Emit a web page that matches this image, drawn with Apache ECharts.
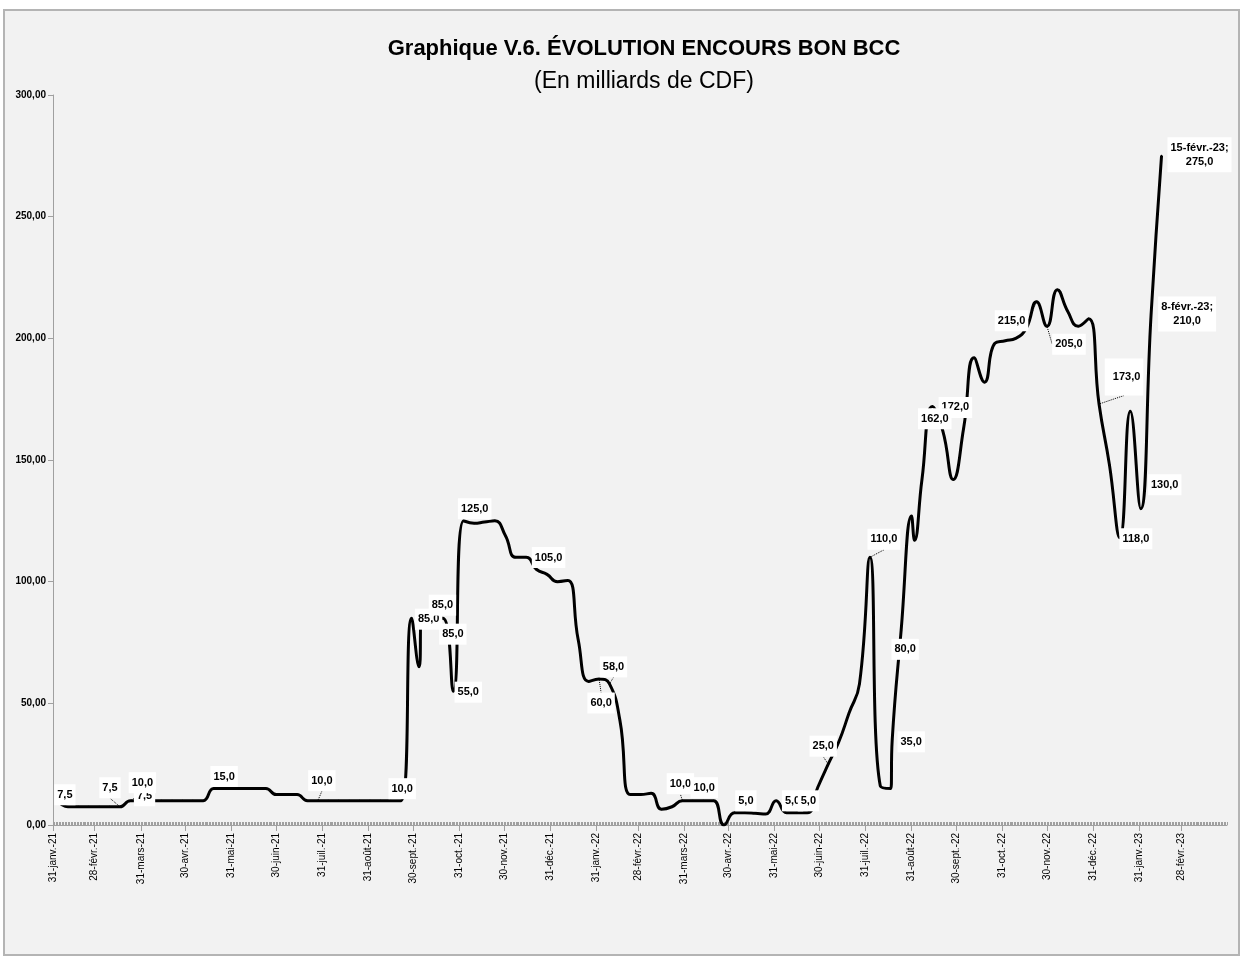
<!DOCTYPE html>
<html>
<head>
<meta charset="utf-8">
<title>Encours Bon BCC</title>
<script src="https://cdn.jsdelivr.net/npm/echarts@6/dist/echarts.min.js"></script>
<style>
  html, body { margin: 0; padding: 0; background: #fff; }
  #cadre { position: absolute; left: 3px; top: 9px; width: 1233px; height: 943px; background: #f2f2f2; border: 2px solid #b4b4b4; }
  #chart { position: absolute; left: 0; top: 0; width: 1244px; height: 958px; }
</style>
</head>
<body>
<div id="cadre"></div>
<div id="chart"></div>
<script>
// encours hebdomadaire (milliards de CDF)
const dates2021 = [
  '2021-02-03', '2021-02-10', '2021-02-17', '2021-02-24', '2021-03-03', '2021-03-10', '2021-03-17', '2021-03-24',
  '2021-03-31', '2021-04-07', '2021-04-14', '2021-04-21', '2021-04-28', '2021-05-05', '2021-05-12', '2021-05-19',
  '2021-05-26', '2021-06-02', '2021-06-09', '2021-06-16', '2021-06-23', '2021-06-30', '2021-07-07', '2021-07-14',
  '2021-07-21', '2021-07-28', '2021-08-04', '2021-08-11', '2021-08-18', '2021-08-25', '2021-09-01', '2021-09-08',
  '2021-09-15', '2021-09-22', '2021-09-29', '2021-10-04', '2021-10-06', '2021-10-13', '2021-10-20', '2021-10-27',
  '2021-11-03', '2021-11-10', '2021-11-17', '2021-11-24', '2021-12-01', '2021-12-08', '2021-12-15', '2021-12-22',
  '2021-12-29'
];
const values2021 = [
  10, 7.5, 7.5, 7.5, 7.5, 7.5, 7.5, 10,
  10, 10, 10, 10, 10, 10, 10, 15,
  15, 15, 15, 15, 15, 12.5, 12.5, 12.5,
  10, 10, 10, 10, 10, 10, 10, 10,
  10, 10, 85, 65, 85, 85, 85, 55,
  125, 124, 124.5, 125, 119, 110, 110, 105,
  103
];
const dates2022 = [
  '2022-01-05', '2022-01-12', '2022-01-19', '2022-01-26', '2022-02-02', '2022-02-09', '2022-02-16', '2022-02-23',
  '2022-03-02', '2022-03-09', '2022-03-16', '2022-03-23', '2022-03-30', '2022-04-06', '2022-04-13', '2022-04-20',
  '2022-04-27', '2022-05-04', '2022-05-11', '2022-05-18', '2022-05-25', '2022-06-01', '2022-06-08', '2022-06-15',
  '2022-06-22', '2022-06-29', '2022-07-06', '2022-07-13', '2022-07-20', '2022-07-27', '2022-08-03', '2022-08-10',
  '2022-08-17', '2022-08-18', '2022-08-24', '2022-08-31', '2022-09-02', '2022-09-07', '2022-09-14', '2022-09-21',
  '2022-09-28', '2022-10-05', '2022-10-12', '2022-10-19', '2022-10-26', '2022-11-02', '2022-11-09', '2022-11-16',
  '2022-11-23', '2022-11-30', '2022-12-07', '2022-12-14', '2022-12-21', '2022-12-28'
];
const values2022 = [
  100, 100.5, 76, 59, 60, 58, 43, 12.5,
  12.5, 13, 6.5, 7.5, 10, 10, 10, 10,
  0, 5, 5, 4.8, 4.5, 10, 5, 5,
  5, 15.5, 25, 34, 46, 58, 110, 16,
  15, 35, 80, 127, 117, 142, 172, 162,
  142, 163, 192, 182, 198, 199, 200, 204,
  215, 205, 220, 211, 205, 208
];
const dates2023 = ['2023-01-04', '2023-01-11', '2023-01-18', '2023-01-25', '2023-02-01', '2023-02-08', '2023-02-15'];
const values2023 = [173, 148, 118, 170, 130, 210, 275];

// graduations de l'axe des dates (fins de mois)
const finsDeMois = [
  '2021-01-31', '2021-02-28', '2021-03-31', '2021-04-30', '2021-05-31', '2021-06-30', '2021-07-31',
  '2021-08-31', '2021-09-30', '2021-10-31', '2021-11-30', '2021-12-31', '2022-01-31', '2022-02-28',
  '2022-03-31', '2022-04-30', '2022-05-31', '2022-06-30', '2022-07-31', '2022-08-31', '2022-09-30',
  '2022-10-31', '2022-11-30', '2022-12-31', '2023-01-31', '2023-02-28'
];
const moisAbr = ['janv.', 'févr.', 'mars', 'avr.', 'mai', 'juin', 'juil.', 'août', 'sept.', 'oct.', 'nov.', 'déc.'];
const debutAxe = '2021-01-31';
const finAxe = '2023-03-31';

// étiquettes affichées : décalage du texte (px) par rapport au point, trait pointillé, marge
const etiquettes = {
  '2021-02-10': [-3, -12],
  '2021-03-10': [35, -11],
  '2021-03-17': [-10, -19, true],
  '2021-03-24': [12, -18, true],
  '2021-05-26': [0, -12],
  '2021-07-28': [4, -20, true],
  '2021-09-22': [1, -12],
  '2021-09-29': [17, 1],
  '2021-10-13': [10, -13],
  '2021-10-20': [10, 16],
  '2021-10-27': [15, 1],
  '2021-11-03': [11, -12],
  '2021-12-22': [12, -12],
  '2022-02-02': [2, 24, true],
  '2022-02-09': [4, -17, true],
  '2022-03-30': [-2, -17, true],
  '2022-04-13': [1, -13],
  '2022-05-11': [1, -12],
  '2022-06-08': [6, -12],
  '2022-06-22': [1, -12],
  '2022-07-06': [-5, -18, true],
  '2022-08-03': [14, -18, true],
  '2022-08-18': [19, 2],
  '2022-08-24': [4, 19],
  '2022-09-14': [23, 1],
  '2022-09-21': [-8, -12],
  '2022-11-23': [-25, 19, true],
  '2022-11-30': [22, 18, true],
  '2023-01-04': [25, -27, true, [20, 3, 3, 8]],
  '2023-01-18': [16, 1],
  '2023-02-01': [24, -24],
  '2023-02-08': [36, 0],
  '2023-02-15': [38, -1]
};

const police = "'Liberation Sans', Arial, sans-serif";
const jour = 86400000;

function ts(s) {
  const p = s.split('-').map(Number);
  return Date.UTC(p[0], p[1] - 1, p[2]);
}
function dateFr(t) {
  const d = new Date(t);
  return d.getUTCDate() + '-' + moisAbr[d.getUTCMonth()] + '-' + String(d.getUTCFullYear()).slice(2);
}
function virgule(v, n) {
  return v.toFixed(n).replace('.', ',');
}

const dates = dates2021.concat(dates2022, dates2023);
const values = values2021.concat(values2022, values2023);
const graduations = finsDeMois.map(ts);

const serie = dates.map((d, i) => {
  const item = { value: [ts(d), values[i]] };
  const e = etiquettes[d];
  if (e) {
    item.label = { show: true };
    if (e[3]) item.label.padding = e[3];
    if (e[2]) item.labelLine = { show: true };
  }
  return item;
});

const chart = echarts.init(document.getElementById('chart'));
chart.setOption({
  animation: false,
  backgroundColor: 'transparent',
  textStyle: { fontFamily: police },
  title: {
    text: 'Graphique V.6. ÉVOLUTION ENCOURS BON BCC',
    subtext: '(En milliards de CDF)',
    left: 639,
    textAlign: 'center',
    top: 33,
    itemGap: 10,
    textStyle: { fontSize: 22, fontWeight: 'bold', color: '#000', fontFamily: police },
    subtextStyle: { fontSize: 23, color: '#000', fontFamily: police }
  },
  grid: { left: 53, right: 17, top: 95, bottom: 133 },
  xAxis: [
    {
      type: 'value',
      min: ts(debutAxe),
      max: ts(finAxe),
      axisLine: { onZero: false, lineStyle: { color: '#a0a0a0' } },
      axisTick: { customValues: graduations, length: 6, lineStyle: { color: '#a0a0a0' } },
      axisLabel: {
        customValues: graduations,
        rotate: 90,
        fontSize: 10,
        color: '#000',
        margin: 8,
        formatter: (v) => dateFr(v)
      },
      splitLine: { show: false }
    },
    {
      // petites graduations journalières
      type: 'value',
      position: 'bottom',
      min: ts(debutAxe),
      max: ts(finAxe),
      interval: jour,
      axisLine: { show: false, onZero: false },
      axisTick: { show: true, inside: true, length: 3, lineStyle: { color: '#a0a0a0' } },
      axisLabel: { show: false },
      splitLine: { show: false }
    }
  ],
  yAxis: {
    type: 'value',
    min: 0,
    max: 300,
    interval: 50,
    axisLine: { show: true, lineStyle: { color: '#a0a0a0' } },
    axisTick: { show: true, length: 5, lineStyle: { color: '#a0a0a0' } },
    axisLabel: { fontSize: 10, fontWeight: 'bold', color: '#000', margin: 7, formatter: (v) => virgule(v, 2) },
    splitLine: { show: false }
  },
  series: [
    {
      type: 'line',
      xAxisIndex: 0,
      data: serie,
      smooth: 0.5,
      symbol: 'circle',
      symbolSize: 2,
      showSymbol: true,
      itemStyle: { color: '#000' },
      lineStyle: { color: '#000', width: 3 },
      label: {
        show: false,
        position: 'inside',
        fontSize: 11,
        fontWeight: 'bold',
        color: '#000',
        backgroundColor: '#fff',
        padding: [4, 3, 3, 3],
        lineHeight: 14,
        fontFamily: police,
        formatter: (p) => {
          const d = dates[p.dataIndex];
          const txt = virgule(p.value[1], 1);
          return d >= '2023-02-08' ? dateFr(ts(d)) + ';\n' + txt : txt;
        }
      },
      labelLine: { show: false, lineStyle: { color: '#000', width: 1, type: 'dotted' } },
      labelLayout: (p) => {
        const e = etiquettes[dates[p.dataIndex]];
        return e ? { dx: e[0], dy: e[1] } : {};
      }
    }
  ]
});
</script>
</body>
</html>
